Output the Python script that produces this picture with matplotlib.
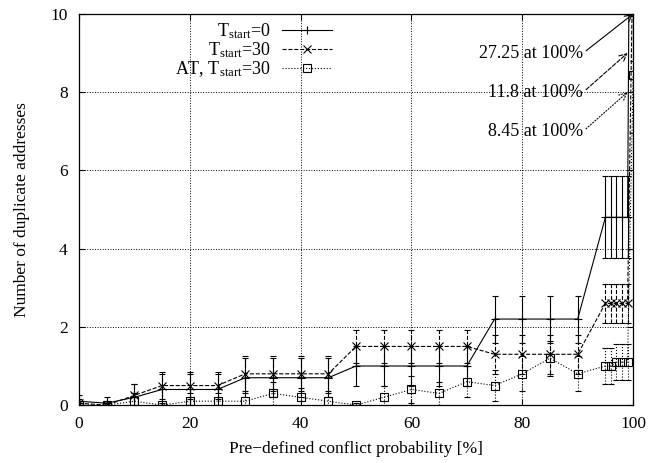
import matplotlib
matplotlib.use("Agg")
import matplotlib.pyplot as plt
from matplotlib.lines import Line2D

plt.rcParams['font.family'] = ['Liberation Serif', 'DejaVu Serif']
plt.rcParams['mathtext.fontset'] = 'custom'
plt.rcParams['mathtext.rm'] = 'Liberation Serif'
plt.rcParams['mathtext.it'] = 'Liberation Serif'

# ---- data ----
prob = [0, 5, 10, 15, 20, 25, 30, 35, 40, 45, 50, 55, 60, 65, 70, 75, 80, 85, 90,
        95, 96, 97, 98, 99, 100]
t0 = [0.1, 0.05, 0.2, 0.4, 0.4, 0.4, 0.7, 0.7, 0.7, 0.7, 1.0, 1.0, 1.0, 1.0, 1.0,
      2.2, 2.2, 2.2, 2.2, 4.8, 4.8, 4.8, 4.8, 4.8, 27.25]
t0_err = [0.15, 0.15, 0.35, 0.4, 0.4, 0.4, 0.5, 0.5, 0.5, 0.5, 0.5, 0.5, 0.5, 0.5, 0.5,
          0.6, 0.6, 0.6, 0.6, 1.05, 1.05, 1.05, 1.05, 1.05, 6.0]
t30 = [0.05, 0.0, 0.25, 0.5, 0.5, 0.5, 0.8, 0.8, 0.8, 0.8, 1.5, 1.5, 1.5, 1.5, 1.5,
       1.3, 1.3, 1.3, 1.3, 2.6, 2.6, 2.6, 2.6, 2.6, 11.8]
t30_err = [0.1, 0.1, 0.3, 0.35, 0.35, 0.35, 0.45, 0.45, 0.45, 0.45, 0.42, 0.42, 0.42,
           0.42, 0.42, 0.5, 0.5, 0.5, 0.5, 0.5, 0.5, 0.5, 0.5, 0.5, 3.0]
at30 = [0.0, 0.0, 0.1, 0.0, 0.1, 0.1, 0.1, 0.3, 0.2, 0.1, 0.0, 0.2, 0.4, 0.3, 0.6,
        0.5, 0.8, 1.2, 0.8, 1.0, 1.0, 1.1, 1.1, 1.1, 8.45]
at30_err = [0.05, 0.05, 0.2, 0.05, 0.2, 0.2, 0.2, 0.3, 0.25, 0.2, 0.05, 0.3, 0.35, 0.3,
            0.4, 0.4, 0.45, 0.45, 0.45, 0.45, 0.45, 0.45, 0.45, 0.45, 1.5]

labels = [r'T$_{\rm start}$=0', r'T$_{\rm start}$=30', r'AT, T$_{\rm start}$=30']
notes = ['27.25 at 100%', '11.8 at 100%', '8.45 at 100%']
note_text_pos = [(91, 9), (91, 8), (91, 7)]
note_tip_pos = [(100, 10), (99, 9), (99, 8)]
note_styles = ['-', '--', ':']

fig = plt.figure(figsize=(6.5, 4.63), dpi=100)
ax = fig.add_axes([0.1215, 0.125, 0.8525, 0.845])

series = [(t0, t0_err, '-', '+', 'k'), (t30, t30_err, '--', 'x', 'k'),
          (at30, at30_err, ':', 's', 'k')]
handles = []
for (y, e, ls, mk, c), lab in zip(series, labels):
    cont = ax.errorbar(prob, y, yerr=e, color=c, ls=ls, lw=0.8, marker=mk,
                       ms=5.5, mfc='none', mew=0.8, capsize=2.5, elinewidth=0.8,
                       capthick=0.8, clip_on=True)
    for lc in cont[2]:
        lc.set_linestyle(ls)
    handles.append(Line2D([], [], color=c, ls=ls, lw=0.8, marker=mk, ms=5.5,
                          mfc='none', mew=0.8))

for txt, tp, hp, ls in zip(notes, note_text_pos, note_tip_pos, note_styles):
    ax.annotate(txt, xy=hp, xytext=tp, ha='right', va='center', fontsize=13,
                arrowprops=dict(arrowstyle='->', lw=0.8, ls=ls, color='k',
                                shrinkA=0, shrinkB=0, relpos=(1, 0.5)),
                annotation_clip=False)

ax.set_xlim(0, 100)
ax.set_ylim(0, 10)
ax.set_xticks([0, 20, 40, 60, 80, 100])
ax.set_yticks([0, 2, 4, 6, 8, 10])
ax.tick_params(direction='in', top=True, right=True, length=4, width=0.8,
               labelsize=12.5, pad=8)
for s in ax.spines.values():
    s.set_linewidth(0.9)
ax.grid(True, color='k', ls=':', lw=0.7)
ax.set_axisbelow(True)

ax.set_xlabel('Pre\u2212defined conflict probability [%]', fontsize=12.5, labelpad=6)
ax.set_ylabel('Number of duplicate addresses', fontsize=12.5, labelpad=15)

leg = ax.legend(handles, labels, loc='upper right', bbox_to_anchor=(0.457, 0.98),
                frameon=False, markerfirst=False, fontsize=13, handlelength=2.8,
                handletextpad=0.6, borderpad=0, borderaxespad=0,
                labelspacing=-0.05)

fig.savefig('out.png', dpi=100)
